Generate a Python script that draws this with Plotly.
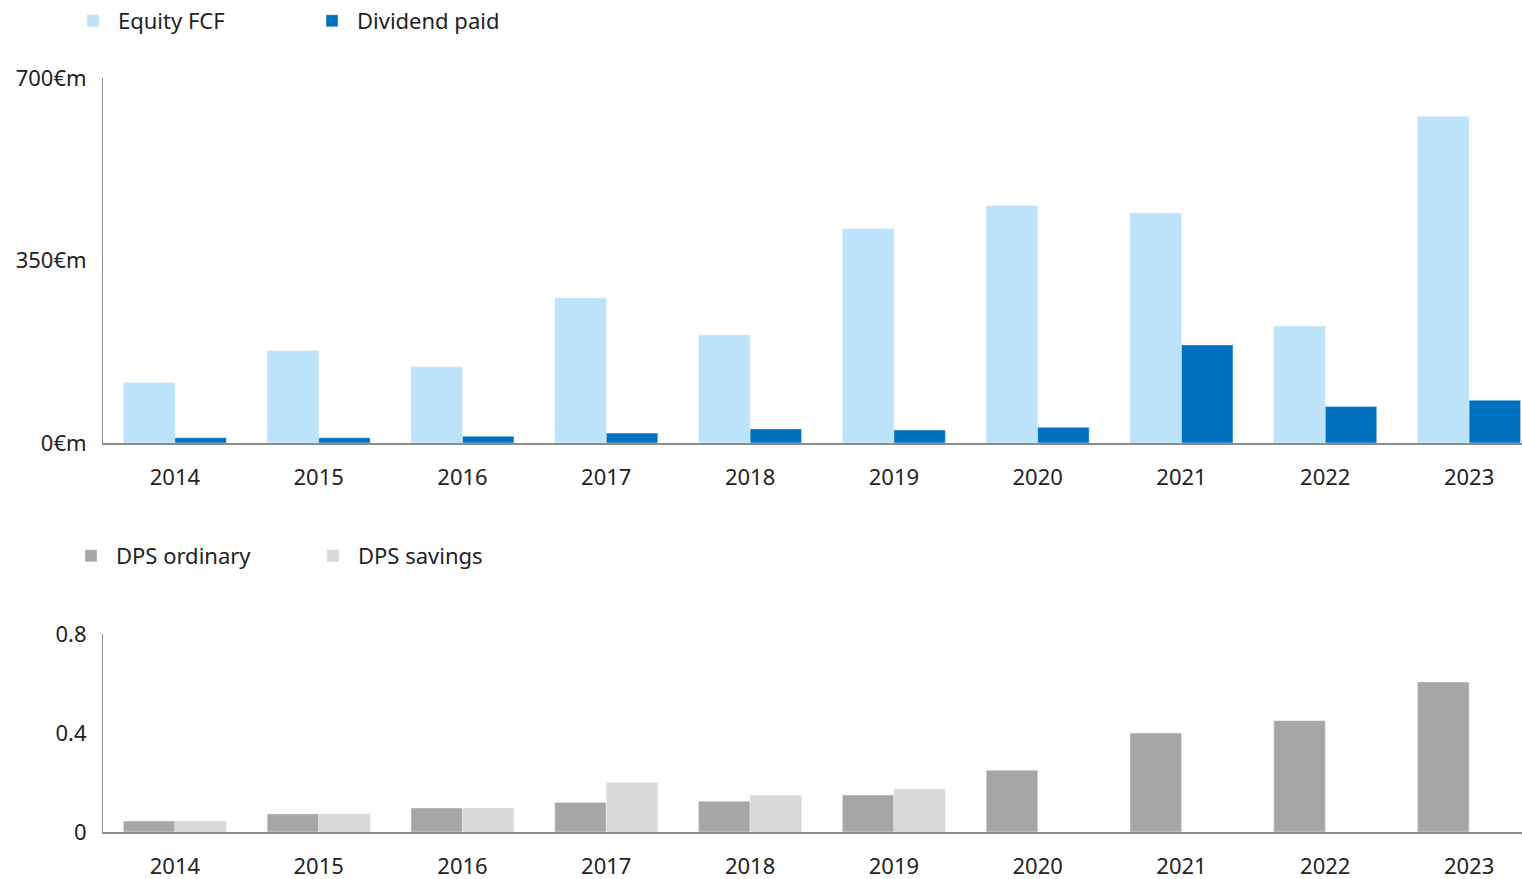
import plotly.graph_objects as go

years = ["2014", "2015", "2016", "2017", "2018", "2019", "2020", "2021", "2022", "2023"]
equity_fcf = [116, 177, 146, 278, 207, 411, 455, 441, 224, 626]
dividend_paid = [10, 10, 13, 19, 27, 25, 30, 188, 70, 82]
dps_ordinary = [0.044, 0.073, 0.097, 0.119, 0.124, 0.149, 0.25, 0.40, 0.45, 0.606]
dps_savings = [0.044, 0.073, 0.097, 0.200, 0.148, 0.174, None, None, None, None]

top_ticks = [0, 350, 700]
top_ticktext = ["0€m", "350€m", "700€m"]
bot_ticks = [0, 0.4, 0.8]
bot_ticktext = ["0", "0.4", "0.8"]

FONT = "Noto Sans"
TXT = "#222222"
W = 1522
H = 879

fig = go.Figure()
fig.add_trace(go.Bar(x=years, y=equity_fcf, name="Equity FCF", marker_color="#BDE3FB",
                     xaxis="x", yaxis="y", legend="legend"))
fig.add_trace(go.Bar(x=years, y=dividend_paid, name="Dividend paid", marker_color="#0070C0",
                     xaxis="x", yaxis="y", legend="legend"))
fig.add_trace(go.Bar(x=years, y=dps_ordinary, name="DPS ordinary", marker_color="#A6A6A6",
                     xaxis="x2", yaxis="y2", legend="legend2"))
fig.add_trace(go.Bar(x=years, y=dps_savings, name="DPS savings", marker_color="#D9D9D9",
                     xaxis="x2", yaxis="y2", legend="legend2"))

xcommon = dict(type="category", range=[-0.5, 9.368], showgrid=False, zeroline=False,
               showline=True, linecolor="#8c8c8c", linewidth=2, ticks="",
               ticklabelstandoff=14, tickfont=dict(family=FONT, size=22, color=TXT),
               automargin=False, fixedrange=True)
ycommon = dict(showgrid=False, zeroline=False, showline=True, linecolor="#8c8c8c", linewidth=1,
               ticks="", ticklabelstandoff=11, tickfont=dict(family=FONT, size=22, color=TXT),
               automargin=False, fixedrange=True)

fig.update_layout(
    width=W, height=H,
    margin=dict(l=103, r=0, t=0, b=0, autoexpand=False),
    paper_bgcolor="white", plot_bgcolor="white",
    barmode="group", bargap=0.284, bargroupgap=0,
    font=dict(family=FONT, size=22, color=TXT),
    xaxis=dict(**xcommon, anchor="y"),
    yaxis=dict(**ycommon, domain=[1 - 443 / H, 1 - 78 / H], range=[0, 700],
               tickvals=top_ticks, ticktext=top_ticktext, anchor="x"),
    xaxis2=dict(**xcommon, anchor="y2"),
    yaxis2=dict(**ycommon, domain=[1 - 832 / H, 1 - 634 / H], range=[0, 0.8],
                tickvals=bot_ticks, ticktext=bot_ticktext, anchor="x2"),
    legend=dict(orientation="h", xref="container", yref="container", x=68 / W, y=1.0,
                xanchor="left", yanchor="top", entrywidth=184, itemwidth=40,
                font=dict(family=FONT, size=22, color=TXT), bgcolor="rgba(0,0,0,0)"),
    legend2=dict(orientation="h", xref="container", yref="container", x=66 / W, y=1 - 535 / H,
                 xanchor="left", yanchor="top", entrywidth=187, itemwidth=40,
                 font=dict(family=FONT, size=22, color=TXT), bgcolor="rgba(0,0,0,0)"),
)

fig.write_html("out.html", config={"displayModeBar": False},
               post_script="document.body.style.margin='0';")
